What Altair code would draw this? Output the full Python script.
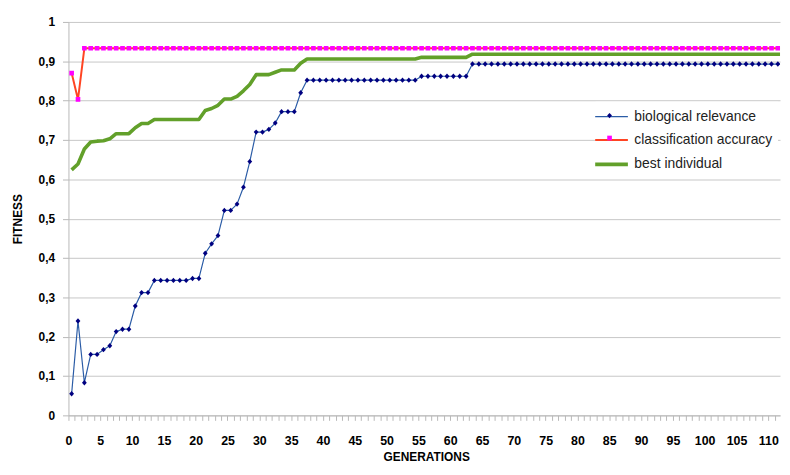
import altair as alt
import pandas as pd

generations = list(range(113))

bio = [
    0.055, 0.240, 0.083, 0.155, 0.155, 0.167, 0.177, 0.213, 0.219, 0.219,
    0.278, 0.312, 0.312, 0.343, 0.343, 0.343, 0.343, 0.343, 0.343, 0.348,
    0.348, 0.412, 0.436, 0.457, 0.521, 0.521, 0.537, 0.580, 0.645, 0.720,
    0.720, 0.727, 0.743, 0.772, 0.772, 0.772, 0.820, 0.852, 0.852, 0.852,
    0.852, 0.852, 0.852, 0.852, 0.852, 0.852, 0.852, 0.852, 0.852, 0.852,
    0.852, 0.852, 0.852, 0.852, 0.852, 0.862, 0.862, 0.862, 0.862, 0.862,
    0.862, 0.862, 0.862, 0.893, 0.893, 0.893, 0.893, 0.893, 0.893, 0.893,
    0.893, 0.893, 0.893, 0.893, 0.893, 0.893, 0.893, 0.893, 0.893, 0.893,
    0.893, 0.893, 0.893, 0.893, 0.893, 0.893, 0.893, 0.893, 0.893, 0.893,
    0.893, 0.893, 0.893, 0.893, 0.893, 0.893, 0.893, 0.893, 0.893, 0.893,
    0.893, 0.893, 0.893, 0.893, 0.893, 0.893, 0.893, 0.893, 0.893, 0.893,
    0.893, 0.893, 0.893,
]

cls = [
    0.870, 0.803, 0.933, 0.933, 0.933, 0.933, 0.933, 0.933, 0.933, 0.933,
    0.933, 0.933, 0.933, 0.933, 0.933, 0.933, 0.933, 0.933, 0.933, 0.933,
    0.933, 0.933, 0.933, 0.933, 0.933, 0.933, 0.933, 0.933, 0.933, 0.933,
    0.933, 0.933, 0.933, 0.933, 0.933, 0.933, 0.933, 0.933, 0.933, 0.933,
    0.933, 0.933, 0.933, 0.933, 0.933, 0.933, 0.933, 0.933, 0.933, 0.933,
    0.933, 0.933, 0.933, 0.933, 0.933, 0.933, 0.933, 0.933, 0.933, 0.933,
    0.933, 0.933, 0.933, 0.933, 0.933, 0.933, 0.933, 0.933, 0.933, 0.933,
    0.933, 0.933, 0.933, 0.933, 0.933, 0.933, 0.933, 0.933, 0.933, 0.933,
    0.933, 0.933, 0.933, 0.933, 0.933, 0.933, 0.933, 0.933, 0.933, 0.933,
    0.933, 0.933, 0.933, 0.933, 0.933, 0.933, 0.933, 0.933, 0.933, 0.933,
    0.933, 0.933, 0.933, 0.933, 0.933, 0.933, 0.933, 0.933, 0.933, 0.933,
    0.933, 0.933, 0.933,
]

best = [
    0.624, 0.639, 0.677, 0.695, 0.697, 0.698, 0.703, 0.716, 0.716, 0.716,
    0.731, 0.742, 0.742, 0.752, 0.752, 0.752, 0.752, 0.752, 0.752, 0.752,
    0.752, 0.775, 0.780, 0.788, 0.804, 0.804, 0.811, 0.825, 0.841, 0.866,
    0.866, 0.866, 0.872, 0.878, 0.878, 0.878, 0.895, 0.906, 0.906, 0.906,
    0.906, 0.906, 0.906, 0.906, 0.906, 0.906, 0.906, 0.906, 0.906, 0.906,
    0.906, 0.906, 0.906, 0.906, 0.906, 0.910, 0.910, 0.910, 0.910, 0.910,
    0.910, 0.910, 0.910, 0.918, 0.918, 0.918, 0.918, 0.918, 0.918, 0.918,
    0.918, 0.918, 0.918, 0.918, 0.918, 0.918, 0.918, 0.918, 0.918, 0.918,
    0.918, 0.918, 0.918, 0.918, 0.918, 0.918, 0.918, 0.918, 0.918, 0.918,
    0.918, 0.918, 0.918, 0.918, 0.918, 0.918, 0.918, 0.918, 0.918, 0.918,
    0.918, 0.918, 0.918, 0.918, 0.918, 0.918, 0.918, 0.918, 0.918, 0.918,
    0.918, 0.918, 0.918,
]

series_names = ["biological relevance", "classification accuracy", "best individual"]
line_colors = ["#2b5ca6", "#ff4422", "#62a02a"]
line_widths = [1.2, 2.0, 3.6]
marker_names = ["biological relevance", "classification accuracy"]
marker_colors = ["#000080", "#ff00ff"]
marker_paths = ["M0,-0.3L0.27,0L0,0.3L-0.27,0Z", "M-0.26,-0.26H0.26V0.26H-0.26Z"]
y_ticks = [0, 0.1, 0.2, 0.3, 0.4, 0.5, 0.6, 0.7, 0.8, 0.9, 1]

rows = []
for name, vals in zip(series_names, [bio, cls, best]):
    for g, v in zip(generations, vals):
        rows.append({"gen": g, "value": v, "series": name, "marker": name})
df = pd.DataFrame(rows)

FONT = "Liberation Sans"
GRAY = "#b8b8b8"

x_enc = alt.X(
    "gen:Q",
    scale=alt.Scale(domain=[-0.5, 111.34], nice=False, zero=False),
    axis=alt.Axis(
        values=generations[:112],
        labelExpr="datum.value % 5 == 0 ? datum.label : ''",
        labelOverlap=False,
        labelFlush=False,
        labelFont=FONT,
        labelFontSize=12.5,
        labelFontWeight="bold",
        labelColor="black",
        labelPadding=14,
        tickSize=5,
        tickColor=GRAY,
        tickOffset=-3.21,
        domainColor=GRAY,
        grid=False,
        title="GENERATIONS",
        titleFont=FONT,
        titleFontSize=12,
        titleFontWeight="bold",
        titleColor="black",
        titleX=361,
        titleY=46,
        titleBaseline="alphabetic",
        titleAlign="center",
    ),
)

y_enc = alt.Y(
    "value:Q",
    scale=alt.Scale(domain=[0, 1], nice=False),
    axis=alt.Axis(
        values=y_ticks,
        labelExpr="datum.value == 0 ? '0' : datum.value == 1 ? '1' : replace(format(datum.value, '.1f'), '.', ',')",
        labelFont=FONT,
        labelFontSize=12,
        labelFontWeight="bold",
        labelColor="black",
        labelPadding=8,
        tickSize=6,
        tickColor=GRAY,
        domainColor=GRAY,
        grid=True,
        gridColor="#c6c6c6",
        title="FITNESS",
        titleFont=FONT,
        titleFontSize=12,
        titleFontWeight="bold",
        titleColor="black",
        titleAngle=270,
        titleX=-51,
        titleY=198.5,
        titleBaseline="middle",
        titleAlign="center",
    ),
)

line_legend = alt.Legend(
    title=None, orient="none", legendX=532, legendY=80.5,
    symbolType="M-1.833,0H1.833", symbolSize=324,
    labelFont=FONT, labelFontSize=14, labelColor="#222222",
    labelOffset=12, rowPadding=6.6, padding=5, fillColor="white",
    labelLimit=300, zindex=1,
)
marker_legend = alt.Legend(
    title=None, orient="none", legendX=532, legendY=80.5,
    symbolSize=324, symbolStrokeWidth=0,
    labelExpr="''", labelFont=FONT, labelFontSize=14,
    labelOffset=12, rowPadding=6.6, padding=5,
    zindex=2,
)

lines = alt.Chart(df).mark_line(clip=True, strokeJoin="round").encode(
    x=x_enc,
    y=y_enc,
    color=alt.Color("series:N", scale=alt.Scale(domain=series_names, range=line_colors), legend=line_legend),
    strokeWidth=alt.StrokeWidth("series:N", scale=alt.Scale(type="ordinal", domain=series_names, range=line_widths), legend=line_legend),
)

points = alt.Chart(df).transform_filter(
    alt.FieldOneOfPredicate(field="marker", oneOf=marker_names)
).mark_point(filled=True, size=324, strokeWidth=0, opacity=1, clip=True).encode(
    x=x_enc,
    y=y_enc,
    fill=alt.Fill("marker:N", scale=alt.Scale(domain=marker_names, range=marker_colors), legend=marker_legend),
    shape=alt.Shape("marker:N", scale=alt.Scale(domain=marker_names, range=marker_paths), legend=marker_legend),
)

chart = alt.layer(lines, points).resolve_scale(
    color="independent", fill="independent", shape="independent", strokeWidth="independent"
).properties(
    width=718,
    height=397,
    autosize=alt.AutoSizeParams(type="none"),
    padding={"left": 61, "top": 12, "right": 2, "bottom": 47},
).configure_view(stroke=None)

chart.save("out.html", embed_options={"renderer": "svg", "actions": False})
